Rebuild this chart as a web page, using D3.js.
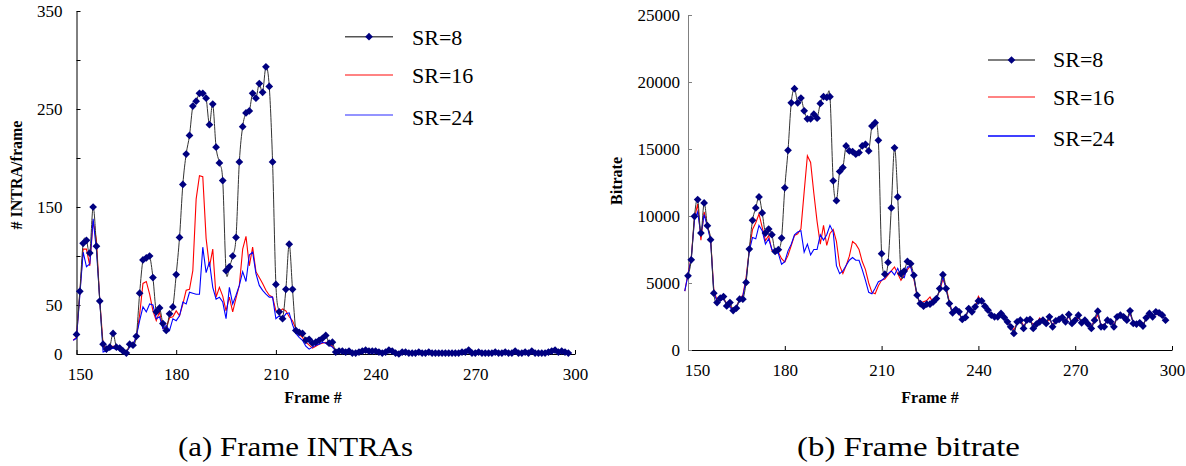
<!DOCTYPE html>
<html>
<head>
<meta charset="utf-8">
<script src="https://cdn.jsdelivr.net/npm/d3@7"></script>
<style>
  html, body { margin: 0; padding: 0; background: #fff; }
  svg { display: block; }
</style>
</head>
<body>
<svg id="fig" width="1186" height="466"></svg>
<script>
// ---- data -------------------------------------------------------------
// SR=8 is sampled from frame 150, SR=16 / SR=24 from frame 149; one value per frame.
const firstFrameSR8 = 150;
const firstFrameSR16 = 149;
const firstFrameSR24 = 149;

const seriesNames = ["SR=8", "SR=16", "SR=24"];

// (a) number of INTRA macroblocks per frame
const intraSR8 = [
  20,64,113,116,103,150,110,54,10,5,
  7,21,7,6,3,1,10,9,18,62,
  96,98,100,78,43,47,31,24,41,48,
  81,119,173,204,223,253,258,266,266,261,
  234,255,211,195,177,85,89,100,119,196,
  232,246,248,266,261,276,267,293,273,196,
  71,43,36,66,112,66,24,22,21,14,
  15,11,12,14,16,19,11,12,2,3,
  3,2,3,1,1,2,3,4,3,3,
  3,2,1,2,4,3,1,0,2,2,
  1,1,1,2,1,1,2,1,1,1,
  1,1,1,1,1,1,2,2,4,1,
  1,2,1,1,1,1,2,1,1,2,
  1,1,3,1,1,2,1,3,1,1,
  1,1,2,3,4,2,3,2,1
];
const intraSR16 = [
  14,
  17,62,107,107,90,136,116,55,10,4,
  5,8,7,5,3,2,8,10,17,40,
  72,74,61,44,34,43,26,27,37,38,
  44,39,51,65,66,85,158,182,181,118,
  89,107,58,68,59,44,58,43,57,70,
  107,120,90,109,84,78,72,65,60,58,
  44,43,46,44,38,34,26,20,17,12,
  9,6,8,10,11,12,10,8,4,2,
  2,1,2,1,1,1,2,2,1,2,
  2,1,1,1,2,2,1,1,1,1,
  1,1,1,1,1,1,1,1,1,1,
  1,1,1,1,1,1,1,2,3,1,
  1,1,1,1,1,1,1,1,1,1,
  1,1,2,1,1,1,1,2,1,1,
  1,1,1,2,3,1,2,1,1
];
const intraSR24 = [
  14,
  16,60,104,89,92,138,106,55,2,3,
  5,6,5,4,2,2,7,9,18,34,
  48,43,51,50,36,38,26,29,24,36,
  34,39,53,51,63,62,61,61,109,83,
  94,68,56,58,53,36,68,51,60,70,
  84,74,101,104,82,70,65,61,58,58,
  36,39,36,41,42,30,21,17,14,8,
  5,7,9,10,12,11,9,7,3,2,
  1,1,2,1,1,1,2,2,1,1,
  2,1,1,1,2,1,1,0,1,1,
  1,1,1,1,1,1,1,1,1,1,
  1,1,1,1,1,1,1,2,3,1,
  1,1,1,1,1,1,1,1,1,1,
  1,1,2,1,1,1,1,2,1,1,
  1,1,1,2,2,1,2,1,1
];

// (b) bitrate per frame
const rateSR8 = [
  5537,6734,9976,11223,8729,10974,9277,8230,4240,3541,
  3866,3990,3292,3541,2943,3117,3791,3791,5038,7532,
  9677,10600,11423,10225,8729,9028,8604,7357,7482,8355,
  12100,14900,18450,19500,18450,18800,17850,17250,17250,17600,
  17300,18400,18900,18850,18900,12630,11144,13321,13618,15230,
  14859,14810,14611,14735,15230,15354,14859,16716,16964,15651,
  7183,5661,6534,10600,15089,11423,5697,5895,6612,6439,
  5573,4086,3467,3269,3417,3417,3590,3838,4582,5623,
  4582,3467,2771,3021,2846,2281,2427,3095,2846,3219,
  3665,3665,3269,2972,2600,2477,2477,2724,2427,2105,
  1734,1238,2105,2229,1610,2229,2277,1610,1932,2105,
  2229,1981,2477,1734,2179,2277,2427,2105,2650,1981,
  2229,2600,2031,2229,1932,1610,2229,2897,1734,1734,
  2229,2105,1734,2477,2600,2477,2229,2922,1981,1932,
  2031,1783,2402,2724,2477,2846,2771,2600,2229
];
const rateSR16 = [
  4400,
  5700,6900,9800,10900,8200,10300,9300,8300,4500,3700,
  3700,3800,3500,3300,3000,3200,3800,4100,5400,7500,
  9000,9500,10150,9160,8170,8540,7430,7300,7300,6810,
  6560,7060,7800,8540,8670,9040,11800,14500,14000,11700,
  9600,7900,9300,7800,8700,9000,8100,6300,5700,6300,
  7000,8100,7900,7500,6600,6000,5000,4300,4200,4800,
  5200,5300,5600,5900,6200,5700,5200,5600,6000,6300,
  5300,4000,3500,3600,3700,3960,3500,3900,4400,5300,
  4700,3600,2700,3000,2700,2300,2500,3000,2900,3200,
  4000,3600,3300,2900,2700,2500,2400,2600,2400,2200,
  1800,1500,2000,2300,1800,2100,2200,1900,2000,2400,
  2100,2000,2300,1900,2200,2300,2300,2100,2500,2000,
  2200,2400,2100,2200,2000,1800,2200,2600,1900,1900,
  2200,2100,1900,2400,2500,2400,2300,2700,2100,2000,
  2000,1900,2300,2600,2500,2700,2600,2500,2300
];
const rateSR24 = [
  4400,
  5600,6800,9700,10300,8600,10100,9200,8200,4300,3600,
  3700,3800,3400,3200,2900,3100,3800,4000,5200,7400,
  8400,8300,9300,8900,7900,8300,7500,7300,7200,6400,
  6600,7400,7900,8600,8800,8900,7300,7900,7100,7500,
  7500,8600,8200,8600,9300,8800,6300,5700,5900,6300,
  6700,6900,6700,6700,6000,5200,4300,4200,4600,5100,
  5200,5400,5700,5900,5600,6100,5500,5400,6200,6200,
  5400,4100,3400,3300,3400,3500,3600,3800,4500,5500,
  4500,3500,2800,3000,2800,2300,2400,3100,2800,3100,
  3600,3600,3300,3000,2600,2500,2400,2700,2400,2100,
  1700,1300,2000,2200,1700,2200,2300,1700,1900,2200,
  2200,2000,2500,1800,2200,2400,2400,2100,2600,1900,
  2300,2500,2000,2200,1900,1600,2300,2800,1800,1800,
  2300,2100,1800,2500,2600,2400,2200,2800,2000,1900,
  2100,1800,2400,2700,2400,2800,2700,2600,2200
];

// axis ticks
const frameTicks = [150, 180, 210, 240, 270, 300];
const intraTicks = [0, 50, 100, 150, 200, 250, 300, 350];
const intraTickLabels = [0, 50, 150, 250, 350];
const rateTicks = [0, 5000, 10000, 15000, 20000, 25000];

// ---- drawing ----------------------------------------------------------
const svg = d3.select("#fig");
const FONT = "'Liberation Serif'";
const colors = { sr8: "#333333", marker: "#000080", sr16: "#ff0000", sr24: "#0000ff" };

function toPoints(values, first) {
  return values.map((v, i) => ({ frame: first + i, value: v }));
}

function drawPanel(cfg) {
  const g = svg.append("g");
  const x = d3.scaleLinear().domain([150, 300]).range(cfg.xRange);
  const y = d3.scaleLinear().domain(cfg.yDomain).range(cfg.yRange);

  // axes (ticks point into the plot)
  const xAxis = d3.axisBottom(x).tickValues(frameTicks).tickSize(-4).tickSizeOuter(0).tickPadding(14);
  const gx = g.append("g").attr("transform", `translate(0,${cfg.yRange[0]})`).call(xAxis);
  gx.attr("font-family", null);
  gx.selectAll("text").style("font-size", "17px");
  gx.select(".tick text").attr("dx", cfg.firstLabelShift);
  gx.select(".domain").attr("stroke", "#000");

  const yAxis = d3.axisLeft(y).tickValues(cfg.yTicks).tickSize(-4).tickSizeOuter(0).tickPadding(cfg.yPad)
    .tickFormat(d => cfg.yLabels.includes(d) ? String(d) : "");
  const gy = g.append("g").attr("transform", `translate(${cfg.xRange[0]},0)`).call(yAxis);
  gy.attr("font-family", null);
  gy.selectAll("text").style("font-size", "17px");
  gy.select(".domain").attr("stroke", cfg.yAxisColor);
  gy.selectAll(".tick line").attr("stroke", cfg.yAxisColor);

  // axis titles
  g.append("text").attr("x", cfg.xTitleX).attr("y", 403).attr("text-anchor", "middle")
    .style("font-size", "16px").style("font-weight", "bold").text("Frame #");
  g.append("text").attr("transform", `translate(${cfg.yTitleX},${cfg.yTitleY}) rotate(-90)`)
    .attr("text-anchor", "middle").style("font-size", "16px").style("font-weight", "bold").text(cfg.yTitle);

  const line = d3.line().x(d => x(d.frame)).y(d => y(d.value));
  const smooth = d3.line().x(d => x(d.frame)).y(d => y(d.value)).curve(d3.curveCardinal.tension(0));

  g.append("path").datum(toPoints(cfg.sr16, firstFrameSR16))
    .attr("d", line).attr("fill", "none").attr("stroke", colors.sr16).attr("stroke-width", 1.1);
  g.append("path").datum(toPoints(cfg.sr24, firstFrameSR24))
    .attr("d", line).attr("fill", "none").attr("stroke", colors.sr24).attr("stroke-width", 1.1);
  const p8 = toPoints(cfg.sr8, firstFrameSR8);
  g.append("path").datum(p8)
    .attr("d", smooth).attr("fill", "none").attr("stroke", colors.sr8).attr("stroke-width", 1);

  const diamond = d3.symbol().type(d3.symbolSquare).size(30);
  g.append("g").selectAll("path").data(p8).join("path")
    .attr("d", diamond)
    .attr("transform", d => `translate(${x(d.frame)},${y(d.value)}) rotate(45)`)
    .attr("fill", colors.marker);

  // legend
  const lg = g.append("g");
  const styles = [
    { name: seriesNames[0], stroke: "#555555", marker: true },
    { name: seriesNames[1], stroke: "#ff5a5a", marker: false },
    { name: seriesNames[2], stroke: cfg.legendBlue, marker: false }
  ];
  styles.forEach((s, i) => {
    const ly = cfg.legend.ys[i];
    lg.append("line").attr("x1", cfg.legend.x1).attr("x2", cfg.legend.x2)
      .attr("y1", ly).attr("y2", ly).attr("stroke", s.stroke).attr("stroke-width", 1.6);
    if (s.marker) {
      lg.append("path").attr("d", diamond)
        .attr("transform", `translate(${(cfg.legend.x1 + cfg.legend.x2) / 2},${ly}) rotate(45)`)
        .attr("fill", colors.marker);
    }
    lg.append("text").attr("x", cfg.legend.tx).attr("y", ly + cfg.legend.baseline[i])
      .style("font-size", "22px").text(s.name);
  });

  // caption
  svg.append("text").attr("x", cfg.captionX).attr("y", 456).attr("text-anchor", "middle")
    .style("font-size", "27px").attr("textLength", cfg.captionLen).attr("lengthAdjust", "spacingAndGlyphs")
    .text(cfg.caption);
}

drawPanel({
  xRange: [76.5, 575], yDomain: [0, 350], yRange: [354, 11],
  yTicks: intraTicks, yLabels: intraTickLabels, yPad: 14, yAxisColor: "#000",
  firstLabelShift: 3.5,
  sr8: intraSR8, sr16: intraSR16, sr24: intraSR24,
  xTitleX: 313, yTitle: "# INTRA/frame", yTitleX: 22, yTitleY: 175,
  legend: { x1: 345, x2: 393, tx: 412, ys: [36.7, 75, 115], baseline: [8, 8, 10] },
  legendBlue: "#7070ff",
  caption: "(a) Frame INTRAs", captionX: 295.5, captionLen: 235
});

drawPanel({
  xRange: [688, 1172], yDomain: [0, 25000], yRange: [350, 15],
  yTicks: rateTicks, yLabels: rateTicks, yPad: 8, yAxisColor: "#808080",
  firstLabelShift: 9,
  sr8: rateSR8, sr16: rateSR16, sr24: rateSR24,
  xTitleX: 930, yTitle: "Bitrate", yTitleX: 622, yTitleY: 181,
  legend: { x1: 988, x2: 1035, tx: 1053, ys: [60, 97, 136], baseline: [7, 8, 10] },
  legendBlue: "#0000ff",
  caption: "(b) Frame bitrate", captionX: 908.5, captionLen: 223
});

// one typeface for every label
svg.selectAll("text").style("font-family", FONT).style("fill", "#000");
</script>
</body>
</html>
